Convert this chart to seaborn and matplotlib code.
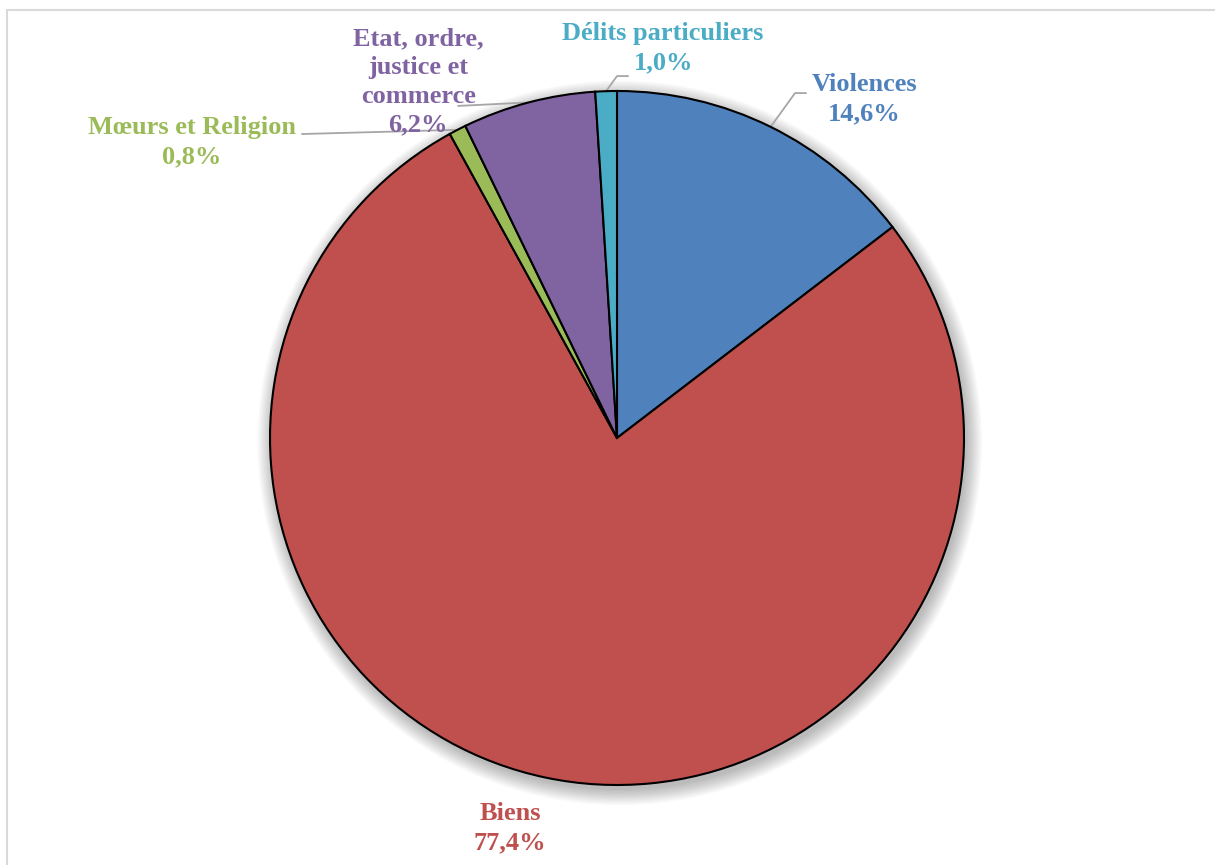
import numpy as np
import matplotlib.pyplot as plt
import matplotlib.patches as mpatches
import seaborn as sns

# categories clockwise from 12 o'clock
categories = ["Violences", "Biens", "Mœurs et Religion",
              "Etat, ordre,\njustice et\ncommerce", "Délits particuliers"]
shares = [14.6, 77.4, 0.8, 6.2, 1.0]
colors = ["#4F81BD", "#C0504D", "#9BBB59", "#8064A2", "#4BACC6"]

# label block centres (axes data units, radius = 1) and leader line paths
label_pos = [(0.712, 0.977), (-0.308, -1.124), (-1.225, 0.853),
             (-0.573, 1.026), (0.133, 1.124)]
leader_path = [[(0.513, 0.994), (0.545, 0.994)],
               None,
               [(-0.908, 0.876)],
               [(-0.458, 0.957)],
               [(0.0, 1.043), (0.032, 1.043)]]

sns.set_theme(style="white")
plt.rcParams["font.family"] = ["Liberation Serif", "DejaVu Serif"]

fig = plt.figure(figsize=(12.15, 8.65), dpi=100)
W, H = 1215, 865
cx, cy, r = 617, 438, 347
ax = fig.add_axes([(cx - r) / W, (H - cy - r) / H, 2 * r / W, 2 * r / H])

# frame of the chart area
fig.patches.append(mpatches.Rectangle((7 / W, -0.1), 1.2, 1 - 10 / H + 0.1,
                                      transform=fig.transFigure, fill=False,
                                      edgecolor="#D9D9D9", lw=1.5, zorder=0))

# soft shadow
for k in range(12):
    ax.add_patch(mpatches.Circle((0.008, -0.014), 1.0 + k * 0.004,
                                 color="black", alpha=0.025, lw=0, zorder=0,
                                 clip_on=False))

wedges, _ = ax.pie(shares, colors=colors, startangle=90, counterclock=False,
                   radius=1, wedgeprops=dict(edgecolor="black", linewidth=1.5))
for w in wedges:
    w.set_zorder(2)

ax.set_xlim(-1, 1)
ax.set_ylim(-1, 1)
ax.set_aspect("equal")
ax.axis("off")

for i, w in enumerate(wedges):
    ang = np.deg2rad((w.theta1 + w.theta2) / 2)
    start = (np.cos(ang), np.sin(ang))
    if leader_path[i] is not None:
        pts = [start] + leader_path[i]
        xs, ys = zip(*pts)
        ax.plot(xs, ys, color="#A6A6A6", lw=1.3, clip_on=False, zorder=1)
    txt = f"{categories[i]}\n{shares[i]:.1f}%".replace(".", ",")
    ax.text(label_pos[i][0], label_pos[i][1], txt, ha="center", va="center",
            fontsize=19, fontweight="bold", color=colors[i],
            linespacing=1.32, clip_on=False)

fig.savefig("out.png", dpi=100, facecolor="white")
